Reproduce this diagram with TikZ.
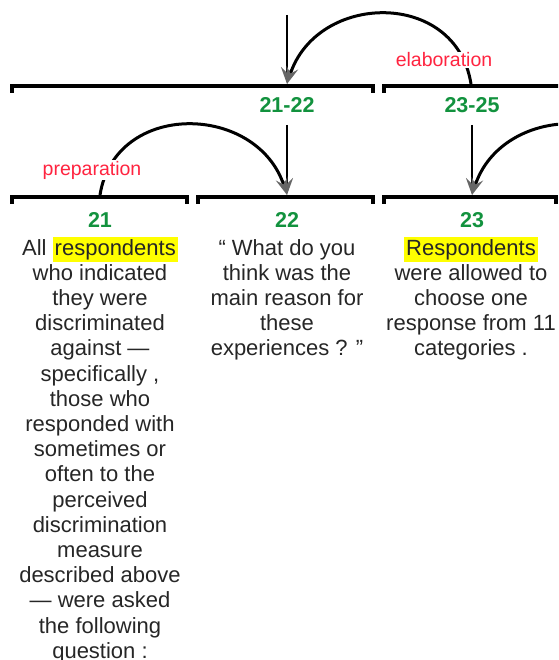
\documentclass[tikz,border=0pt]{standalone}
\usepackage{fontspec}
\setmainfont{Liberation Sans}
\usetikzlibrary{arrows.meta}
\definecolor{spangreen}{RGB}{18,146,62}
\definecolor{relred}{RGB}{255,36,64}
\definecolor{hlyellow}{RGB}{255,255,0}
\newcommand{\hlword}[1]{{\setlength{\fboxsep}{2pt}\colorbox{hlyellow}{#1}}}

\begin{document}
\begin{tikzpicture}[
  x=1pt,y=1pt,
  spanbar/.style={line width=4pt,line join=miter,black},
  spanlabel/.style={text=spangreen,font=\fontsize{21.5}{24}\selectfont\bfseries,inner sep=0pt},
  edutext/.style={align=center,font=\fontsize{22}{25.2}\selectfont,text=black!85,inner sep=0pt,anchor=base},
  ]
  \tikzset{%
    relarrow/.style={
      line width=2.4pt,
      -{Stealth[length=17pt,width=12pt,inset=6pt,color=black!60]},
    },
    relarc/.style={
      relarrow,
      line width=3pt,
    },
    rellabel/.style={
      text=relred,
      font=\fontsize{19.5}{22}\selectfont,
      fill=white,
      inner sep=1pt,
    },
  }
  \clip (0,0) rectangle (558,-660);
  %Nodes (text nodes sit on the baseline of their last line)
  \node[spanlabel](s2122) at (287,-105){21-22};
  \node[spanlabel](s2325) at (472,-105){23-25};
  \node[spanlabel](s21) at (100,-220){21};
  \node[spanlabel](s22) at (287,-220){22};
  \node[spanlabel](s23) at (472,-220){23};
  \node[edutext](t21) at (100,-658.2){All \hlword{respondents}\\who indicated\\they were\\discriminated\\against —\\specifically ,\\those who\\responded with\\sometimes or\\often to the\\perceived\\discrimination\\measure\\described above\\— were asked\\the following\\question :};
  \node[edutext](t22) at (287,-355.8){“ What do you\\think was the\\main reason for\\these\\experiences ? ”};
  \node[edutext](t23) at (471,-355.8){\hlword{Respondents}\\were allowed to\\choose one\\response from 11\\categories .};
  \coordinate (root) at (287,-15);
  \coordinate (n2122) at (287,-84);
  \coordinate (sat2325) at (471,-84);
  \coordinate (up2122) at (287,-125);
  \coordinate (n22) at (287,-195);
  \coordinate (sat21) at (100,-195);
  \coordinate (up2325) at (472,-125);
  \coordinate (n23) at (472,-195);
  \coordinate (sat2425) at (659,-195);
  %Spans
  \draw[spanbar] (12,-93) -- (12,-86) -- (373,-86) -- (373,-93);
  \draw[spanbar] (384,-93) -- (384,-86) -- (570,-86);
  \draw[spanbar] (12,-204) -- (12,-197) -- (187,-197) -- (187,-204);
  \draw[spanbar] (198,-204) -- (198,-197) -- (373,-197) -- (373,-204);
  \draw[spanbar] (384,-204) -- (384,-197) -- (556,-197) -- (556,-204);
  %Lines
  \draw[relarrow] (root) -- (n2122);
  \draw[relarc] (sat2325) .. controls +(-15,95) and +(30,92) .. (n2122);
  \draw[relarrow] (up2122) -- (n22);
  \draw[relarc] (sat21) .. controls +(15,95) and +(-30,92) .. (n22);
  \draw[relarrow] (up2325) -- (n23);
  \draw[relarc] (sat2425) .. controls +(-15,95) and +(30,92) .. (n23);
  %Relation labels
  \node[rellabel](elab) at (444,-60){elaboration};
  \node[rellabel](prep) at (92,-170){preparation};
\end{tikzpicture}
\end{document}
